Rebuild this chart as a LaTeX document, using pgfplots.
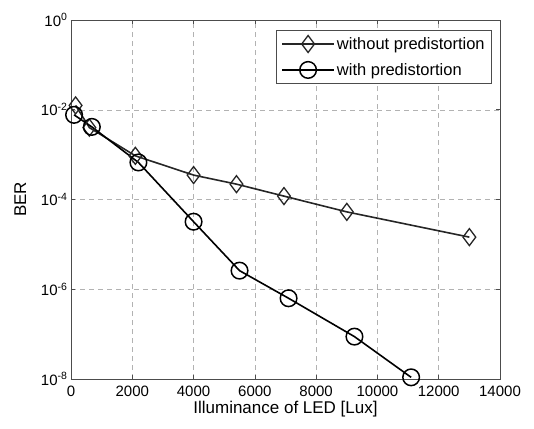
\documentclass[border=0pt]{standalone}
\usepackage{pgfplots}
\pgfplotsset{compat=1.18}
\usepackage{fontspec}
\setmainfont{Liberation Sans}
\begin{document}
\begin{tikzpicture}
\begin{semilogyaxis}[
  scale only axis,
  width=429pt, height=359pt,
  xmin=0, xmax=14000, ymin=1e-8, ymax=1,
  xtick={0,2000,4000,6000,8000,10000,12000,14000},
  ytick={1e-8,1e-6,1e-4,1e-2,1},
  yticklabels={10\textsuperscript{-8},10\textsuperscript{-6},10\textsuperscript{-4},10\textsuperscript{-2},10\textsuperscript{0}},
  yminorticks=false,
  /pgf/number format/assume math mode=true,
  /pgf/number format/1000 sep={},
  scaled x ticks=false,
  tick label style={font=\fontsize{15}{18}\selectfont},
  xticklabel style={yshift=-3pt},
  xlabel style={font=\fontsize{17}{20}\selectfont, yshift=2pt},
  ylabel style={font=\fontsize{17}{20}\selectfont, yshift=8pt},
  xlabel={Illuminance of LED [Lux]},
  ylabel={BER},
  grid=major,
  major grid style={gray!60, line width=0.5pt, dash pattern=on 5pt off 4pt},
  axis line style={gray!60!black, line width=0.7pt},
  tick style={gray!60!black, line width=0.7pt},
  tick align=inside,
  legend style={at={(0.981,0.972)}, anchor=north east, draw=gray!60!black, font=\fontsize{16.5}{19}\selectfont, row sep=8.5pt, inner sep=5pt},
  legend cell align=left,
  legend image code/.code={%
    \draw[line width=1.8pt] (0pt,0pt) -- (52pt,0pt);
    \draw[mark repeat=2,mark phase=2] plot coordinates {(0pt,0pt)(26pt,0pt)(52pt,0pt)};},
]
\addplot[black!85, line width=1.6pt, mark=diamond, mark size=8.5pt, mark options={solid, line width=1.3pt, fill=white}]
coordinates {
(150,1.25e-2) (600,4.0e-3) (2100,9.4e-4) (4000,3.5e-4) (5400,2.2e-4) (6950,1.19e-4) (9000,5.3e-5) (13000,1.45e-5)
};
\addlegendentry{without predistortion}
\addplot[black, line width=1.6pt, mark=o, mark size=8.3pt, mark options={solid, line width=1.5pt}]
coordinates {
(100,7.7e-3) (680,4.15e-3) (2200,6.7e-4) (4000,3.2e-5) (5500,2.6e-6) (7100,6.3e-7) (9250,8.8e-8) (11100,1.09e-8)
};
\addlegendentry{with predistortion}
\path (rel axis cs:0,0) ++(-71pt,-49pt) coordinate (bl);
\path (rel axis cs:1,1) ++(34pt,20pt) coordinate (tr);
\end{semilogyaxis}
\pgfresetboundingbox
\path[use as bounding box] (bl) rectangle (tr);
\end{tikzpicture}
\end{document}
